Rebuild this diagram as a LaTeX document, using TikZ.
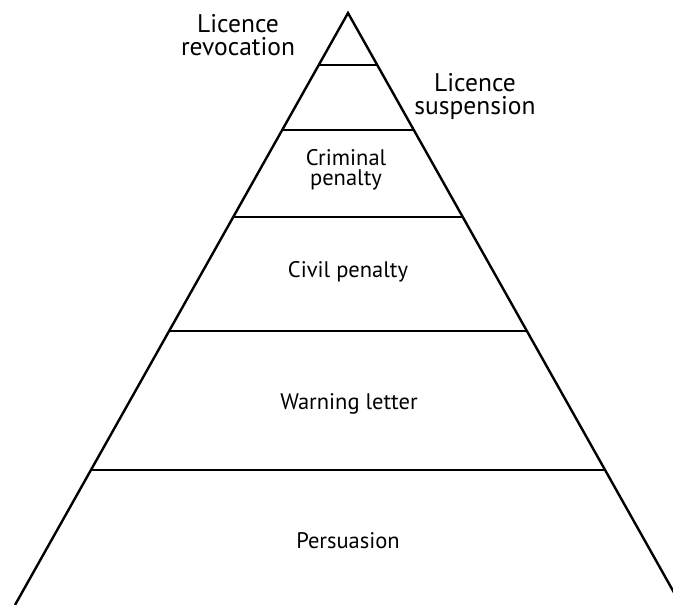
\documentclass[tikz,border=0pt]{standalone}
\usepackage{fontspec}
\setmainfont{PT Sans}
\usepackage{tikz}

\begin{document}
\begin{tikzpicture}[
  x=1pt, y=-1pt,
  side/.style={line width=2.4pt},
  tier/.style={line width=2pt},
  inlabel/.style={align=center, font=\fontsize{22.5}{20.5}\selectfont},
  outlabel/.style={align=center, font=\fontsize{25.5}{23}\selectfont},
]
\useasboundingbox (0,0) rectangle (673,605);
\clip (0,0) rectangle (673,605);
\coordinate (apex) at (348,13);
\coordinate (baseL) at (15,605);
\coordinate (baseR) at (681,605);
\draw[side,line join=miter] (baseL) -- (apex) -- (baseR);
\foreach[evaluate=\y as \w using {0.5625*(\y-13)}] \y in {65,129.5,217,331,470} {
  \draw[tier] ({348-\w},\y) -- ({348+\w},\y);
}
\node[outlabel] (revocation) at (238,35) {Licence\\revocation};
\node[outlabel] (suspension) at (475,97) {Licence\\suspension};
\node[inlabel] (criminal) at (346,170) {Criminal\\penalty};
\node[inlabel] (civil) at (348,272) {Civil penalty};
\node[inlabel] (warning) at (349,404) {Warning letter};
\node[inlabel] (persuasion) at (348,541) {Persuasion};
\end{tikzpicture}
\end{document}
